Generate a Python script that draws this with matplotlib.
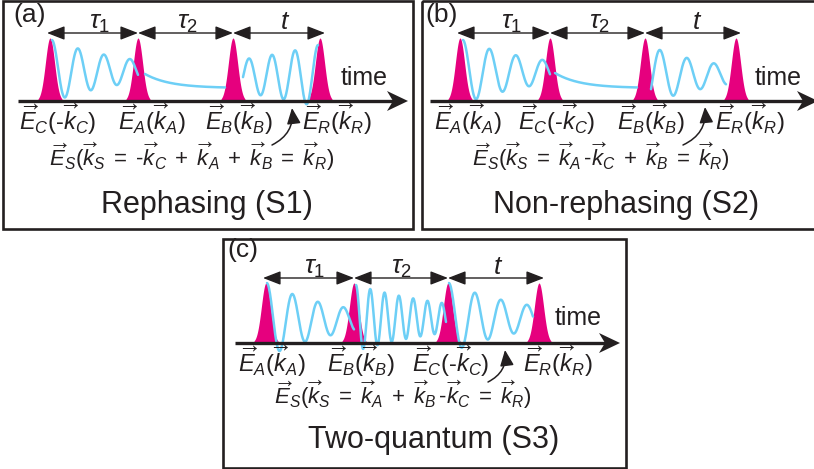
import numpy as np
import matplotlib
matplotlib.use("Agg")
import matplotlib.pyplot as plt
from matplotlib.patches import FancyArrowPatch, Polygon, Rectangle

plt.rcParams['font.family'] = ['Liberation Sans', 'DejaVu Sans']
plt.rcParams['mathtext.fontset'] = 'custom'
plt.rcParams['mathtext.rm'] = 'Liberation Sans'
plt.rcParams['mathtext.it'] = 'Liberation Sans:italic'
plt.rcParams['mathtext.bf'] = 'Liberation Sans:bold'

INK = '#231f20'
PULSE = '#e6007e'
WAVE = '#6dcff6'

# ---- panel content (pixel layout of the 814x469 canvas, y grows down) ----
panel_tags = ['(a)', '(b)', '(c)']
panel_titles = ['Rephasing (S1)', 'Non-rephasing (S2)', 'Two-quantum (S3)']
panel_boxes = [(3, 1, 413, 229), (422, 1, 816, 229), (223, 239, 626, 468)]
tag_xy = [(30, 15), (442, 15), (243, 250)]
title_xy = [(207, 213), (626, 213), (434, 448)]

axis_y = [101, 101, 343]
axis_x = [(18, 408), (430, 818), (235, 620)]
pulse_top = [38, 38, 283]
pulse_x = [[50, 138, 233, 320],
           [460, 550, 645, 736],
           [266, 354, 448, 539]]
delay_y = [33, 33, 278]
delay_names = [r'$\tau_1$', r'$\tau_2$', r'$t$']
delay_label_x = [[100, 188, 285], [512, 600, 697], [315, 402, 498]]
delay_label_y = [29, 29, 274]
time_xy = [(364, 85), (778, 85), (578, 325)]

V = r'\overrightarrow'
field_labels = [
    [rf'${V}{{E}}_C($-${V}{{k}}_C)$', rf'${V}{{E}}_A({V}{{k}}_A)$', rf'${V}{{E}}_B({V}{{k}}_B)$', rf'${V}{{E}}_R({V}{{k}}_R)$'],
    [rf'${V}{{E}}_A({V}{{k}}_A)$', rf'${V}{{E}}_C($-${V}{{k}}_C)$', rf'${V}{{E}}_B({V}{{k}}_B)$', rf'${V}{{E}}_R({V}{{k}}_R)$'],
    [rf'${V}{{E}}_A({V}{{k}}_A)$', rf'${V}{{E}}_B({V}{{k}}_B)$', rf'${V}{{E}}_C($-${V}{{k}}_C)$', rf'${V}{{E}}_R({V}{{k}}_R)$'],
]
field_label_x = [[58, 152, 239, 337], [468, 557, 651, 750], [272, 361, 451, 558]]
field_label_y = [130, 130, 372]

signal_labels = [
    rf'${V}{{E}}_S({V}{{k}}_S\;=\;$-${V}{{k}}_C\;+\;{V}{{k}}_A\;+\;{V}{{k}}_B\;=\;{V}{{k}}_R)$',
    rf'${V}{{E}}_S({V}{{k}}_S\;=\;{V}{{k}}_A\,$-${V}{{k}}_C\;+\;{V}{{k}}_B\;=\;{V}{{k}}_R)$',
    rf'${V}{{E}}_S({V}{{k}}_S\;=\;{V}{{k}}_A\;+\;{V}{{k}}_B\,$-${V}{{k}}_C\;=\;{V}{{k}}_R)$',
]
signal_xy = [(192, 166), (601, 166), (403, 404)]
emit_arrow = [((272, 145), (292, 108)), ((683, 145), (705, 107)), ((488, 382), (505, 350))]

# wave segments: (x_start, x_end, centre, amplitude, x_ref, period, decay length)
# period 0 -> plain exponential relaxation; negative decay -> growing echo
waves = [
    [(52, 138, 71, 31, 52, 26.0, 82), (145, 225, 88, 14, 145, 0, 25), (243, 318, 76, 31, 318, 23.0, -121)],
    [(463, 550, 72, 32, 463, 26.5, 82), (555, 637, 88, 15, 555, 0, 25), (651, 726, 75, 25, 660, 27.0, 71)],
    [(267, 354, 320, 37, 267, 25.5, 72), (356, 446, 318, 33, 356, 14.3, 110), (449, 533, 318, 35, 449, 26.0, 80)],
]

fig = plt.figure(figsize=(8.14, 4.69), dpi=100)
ax = fig.add_axes([0, 0, 1, 1])
ax.set_xlim(0, 814)
ax.set_ylim(469, 0)
ax.axis('off')

for i in range(3):
    x0, y0, x1, y1 = panel_boxes[i]
    ax.add_patch(Rectangle((x0, y0), x1 - x0, y1 - y0, fill=False, ec=INK, lw=1.9, zorder=1))
    ax.text(*tag_xy[i], panel_tags[i], fontsize=19, color=INK, ha='center', va='center')
    ax.text(*title_xy[i], panel_titles[i], fontsize=22, color=INK, ha='center', va='baseline')

    base = axis_y[i]
    # pulses
    for px in pulse_x[i]:
        xs = np.linspace(px - 12, px + 12, 80)
        ys = base - (base - pulse_top[i]) * np.exp(-(xs - px) ** 2 / (2 * 4.6 ** 2))
        ax.fill_between(xs, base, ys, color=PULSE, lw=0, zorder=2)

    # waves
    for xa, xb, c, A, xr, P, L in waves[i]:
        xs = np.linspace(xa, xb, 300)
        env = A * np.exp(-(xs - xr) / L)
        osc = np.cos(2 * np.pi * (xs - xr) / P) if P else 1.0
        ax.plot(xs, c - env * osc, color=WAVE, lw=1.8, zorder=3, solid_capstyle='round')

    # time axis with concave head
    xa, xt = axis_x[i]
    ax.plot([xa, xt - 12], [base, base], color=INK, lw=2.4, zorder=4, solid_capstyle='butt')
    head = [(xt, base), (xt - 21, base - 10), (xt - 15, base), (xt - 21, base + 10)]
    ax.add_patch(Polygon(head, closed=True, color=INK, lw=0, zorder=4))
    ax.text(*time_xy[i], 'time', fontsize=18, color=INK, ha='center', va='baseline')

    # delay arrows
    dx = pulse_x[i]
    for k in range(3):
        ax.add_patch(FancyArrowPatch((dx[k] - (3 if k == 0 else 0), delay_y[i]), (dx[k + 1] + (5 if k == 2 else 0), delay_y[i]),
                                     arrowstyle='<|-|>,head_length=0.9,head_width=0.35', mutation_scale=12,
                                     color=INK, lw=1.0, shrinkA=0, shrinkB=0, zorder=5))
        ax.text(delay_label_x[i][k], delay_label_y[i], delay_names[k], fontsize=19, color=INK,
                ha='center', va='baseline')

    # field labels
    for k in range(4):
        ax.text(field_label_x[i][k], field_label_y[i], field_labels[i][k], fontsize=17, color=INK,
                ha='center', va='baseline')
    ax.text(*signal_xy[i], signal_labels[i], fontsize=16, color=INK, ha='center', va='baseline')

    (sx, sy), (ex, ey) = emit_arrow[i]
    ax.add_patch(FancyArrowPatch((sx, sy), (ex, ey), connectionstyle='arc3,rad=0.35',
                                 arrowstyle='-|>,head_length=0.8,head_width=0.35', mutation_scale=12,
                                 color=INK, lw=1.1, shrinkA=0, shrinkB=0, zorder=5))

fig.savefig('out.png', dpi=100)
